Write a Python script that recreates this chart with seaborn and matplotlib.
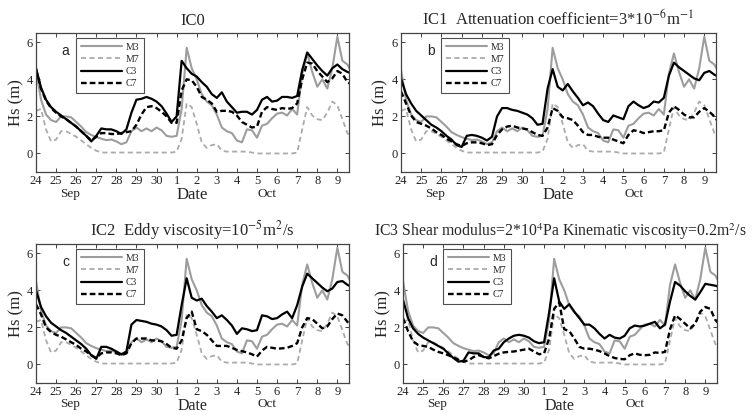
import numpy as np
import pandas as pd
import matplotlib
matplotlib.use("Agg")
import matplotlib.pyplot as plt
import seaborn as sns
from matplotlib.lines import Line2D
from matplotlib.transforms import blended_transform_factory

sns.set_theme(style="white")
plt.rcParams["font.family"] = ["Liberation Serif", "DejaVu Serif"]
plt.rcParams["mathtext.fontset"] = "stix"

# 6-hourly samples, days since 24 Sep 00:00
days = np.arange(64) * 0.25

tick_days = list(range(16))
tick_labels = ["24", "25", "26", "27", "28", "29", "30",
               "1", "2", "3", "4", "5", "6", "7", "8", "9"]
month_labels = [("Sep", 1.7), ("Oct", 11.5)]

# observed significant wave height (m)
M3 = [4.5, 2.9, 2.1, 1.8,  1.7, 2.0, 2.0, 1.95,  1.7, 1.45, 1.15, 1.0,  0.88, 0.8, 0.72, 0.75,
      0.65, 0.5, 0.6, 1.2,  1.4, 1.2, 1.35, 1.2,  1.4, 1.25, 0.95, 0.9,  0.95, 2.4, 5.7, 4.6,
      4.0, 3.2, 2.8, 2.6,  2.1, 1.4, 1.2, 1.1,  0.7, 0.6, 1.3, 1.25,  0.85, 1.5, 1.6, 1.9,
      2.15, 2.2, 2.05, 2.4,  2.1, 4.3, 5.4, 4.4,  3.6, 4.0, 3.5, 4.6,  6.3, 5.0, 4.8, 4.3]
M7 = [2.3, 2.4, 1.3, 0.65,  0.75, 1.2, 1.2, 1.05,  0.9, 0.7, 0.5, 0.3,  0.15, 0.05, 0.05, 0.05,
      0.05, 0.05, 0.05, 0.05,  0.05, 0.05, 0.05, 0.05,  0.05, 0.05, 0.05, 0.05,  0.1, 0.8, 2.7, 2.5,
      1.6, 0.6, 0.3, 0.45,  0.5, 0.15, 0.1, 0.1,  0.1, 0.1, 0.1, 0.05,  0.0, 0.0, 0.0, 0.0,
      0.0, 0.0, 0.0, 0.0,  0.05, 1.3, 2.5, 2.05,  1.85, 1.8, 2.2, 2.8,  2.6, 1.85, 1.1, 0.8]

# modelled significant wave height (m) for each ice configuration
C3_IC0 = [4.6, 3.55, 2.9, 2.5,  2.25, 2.05, 1.85, 1.65,  1.45, 1.2, 0.95, 0.65,  0.95, 1.35, 1.3, 1.3,
          1.2, 1.05, 1.3, 2.2,  2.9, 2.95, 3.05, 2.95,  2.8, 2.55, 2.15, 1.7,  2.0, 5.0, 4.6, 4.3,
          4.15, 3.85, 3.6, 3.2,  3.0, 3.3, 2.8, 2.5,  2.2, 2.25, 2.25, 2.1,  2.35, 2.9, 3.05, 2.8,
          2.85, 3.05, 3.05, 3.0,  3.1, 4.5, 5.45, 5.1,  4.75, 4.45, 4.2, 4.6,  4.8, 4.55, 4.4, 4.3]
C7_IC0 = [4.55, 3.5, 2.85, 2.45,  2.2, 2.0, 1.85, 1.65,  1.45, 1.2, 0.95, 0.7,  0.9, 1.1, 1.1, 1.05,
          1.05, 1.1, 1.15, 1.2,  1.55, 2.1, 2.5, 2.55,  2.45, 2.25, 2.0, 1.65,  1.65, 3.4, 4.0, 3.95,
          3.6, 3.05, 2.9, 2.7,  2.25, 2.3, 2.3, 2.25,  2.05, 1.7, 1.55, 1.4,  1.45, 2.25, 2.5, 2.4,
          2.35, 2.45, 2.4, 2.45,  2.7, 4.0, 4.9, 4.85,  4.45, 4.15, 3.85, 4.05,  4.45, 4.3, 3.85, 3.7]
C3_IC1 = [4.05, 3.2, 2.7, 2.3,  2.05, 1.8, 1.55, 1.4,  1.2, 0.95, 0.75, 0.45,  0.35, 0.95, 1.0, 0.95,
          0.85, 0.7, 0.9, 2.0,  2.45, 2.45, 2.35, 2.3,  2.2, 2.1, 1.9, 1.55,  1.6, 3.5, 4.55, 3.6,
          3.4, 3.75, 3.35, 3.0,  2.6, 2.75, 2.55, 2.15,  1.8, 1.7, 2.05, 1.95,  1.85, 2.55, 2.8, 2.6,
          2.45, 2.55, 2.8, 2.75,  3.0, 4.2, 4.9, 4.65,  4.45, 4.25, 4.05, 3.95,  4.35, 4.45, 4.25, 4.1]
C7_IC1 = [3.35, 2.7, 2.05, 1.7,  1.6, 1.5, 1.35, 1.15,  1.0, 0.8, 0.65, 0.5,  0.4, 0.55, 0.6, 0.6,
          0.55, 0.45, 0.5, 1.0,  1.3, 1.45, 1.5, 1.4,  1.35, 1.3, 1.15, 1.0,  0.95, 1.4, 2.45, 2.3,
          1.95, 1.9, 1.8, 1.5,  1.15, 1.0, 1.0, 0.9,  0.85, 0.85, 0.75, 0.65,  0.55, 1.0, 1.25, 1.2,
          1.1, 1.15, 1.2, 1.2,  1.25, 2.2, 2.55, 2.35,  2.1, 1.95, 1.95, 2.25,  2.45, 2.25, 2.0, 1.6]
C3_IC2 = [4.0, 3.1, 2.6, 2.25,  2.05, 1.85, 1.7, 1.5,  1.3, 1.1, 0.85, 0.5,  0.3, 0.95, 0.95, 0.85,
          0.7, 0.55, 0.7, 2.15,  2.4, 2.35, 2.3, 2.2,  2.15, 2.05, 1.85, 1.55,  1.6, 3.2, 4.65, 3.6,
          3.45, 3.55, 3.15, 2.85,  2.5, 2.65, 2.4, 2.1,  1.65, 1.95, 1.9, 1.8,  1.85, 2.65, 2.6, 2.45,
          2.5, 2.7, 2.85, 2.5,  3.2, 4.2, 4.9, 4.65,  4.4, 4.15, 3.95, 4.1,  4.45, 4.5, 4.3, 4.15]
C7_IC2 = [3.25, 2.7, 2.0, 1.75,  1.6, 1.5, 1.35, 1.2,  1.05, 0.85, 0.7, 0.5,  0.35, 0.6, 0.65, 0.65,
          0.6, 0.5, 0.6, 1.15,  1.4, 1.4, 1.4, 1.3,  1.3, 1.25, 1.1, 0.9,  0.85, 1.3, 2.5, 2.85,
          1.9, 1.8, 1.6, 1.3,  1.0, 1.0, 1.0, 0.9,  0.78, 0.72, 0.65, 0.55,  0.42, 0.75, 0.95, 0.9,
          0.85, 0.87, 0.9, 1.0,  1.15, 2.0, 2.5, 2.45,  2.2, 1.95, 2.05, 2.45,  2.75, 2.65, 2.3, 2.0]
C3_IC3 = [3.5, 2.5, 1.95, 1.65,  1.45, 1.3, 1.15, 1.0,  0.85, 0.6, 0.35, 0.15,  0.2, 0.65, 0.6, 0.6,
          0.4, 0.38, 0.75, 0.85,  1.2, 1.4, 1.55, 1.6,  1.55, 1.45, 1.25, 1.15,  1.2, 2.8, 4.65, 3.4,
          3.0, 3.25, 2.85, 2.5,  2.15, 2.15, 1.95, 1.65,  1.4, 1.6, 1.45, 1.4,  1.55, 1.95, 2.1, 2.05,
          2.1, 2.2, 2.3, 1.95,  2.15, 3.4, 4.45, 4.25,  3.95, 3.7, 3.5, 3.9,  4.35, 4.3, 4.25, 4.15]
C7_IC3 = [2.5, 1.8, 1.25, 1.05,  1.0, 0.95, 0.8, 0.68,  0.6, 0.5, 0.38, 0.25,  0.15, 0.22, 0.4, 0.5,
          0.42, 0.33, 0.45, 0.58,  0.65, 0.68, 0.7, 0.75,  0.8, 0.85, 0.7, 0.55,  0.6, 1.4, 3.0, 3.35,
          1.9, 1.8, 1.4, 0.95,  0.85, 0.85, 0.8, 0.72,  0.6, 0.45, 0.35, 0.3,  0.28, 0.5, 0.6, 0.52,
          0.5, 0.52, 0.65, 0.62,  0.68, 1.9, 2.65, 2.45,  2.2, 1.95, 2.2, 2.85,  3.1, 3.0, 2.4, 2.1]

titles = [
    "IC0",
    "IC1  Attenuation coefficient=3*10$^{-6}$m$^{-1}$",
    "IC2  Eddy viscosity=10$^{-5}$m$^{2}$/s",
    "IC3 Shear modulus=2*10$^{4}$Pa Kinematic viscosity=0.2m$^{2}$/s",
]
title_sizes = [12, 12, 12, 11.3]
letters = ["a", "b", "c", "d"]
model_c3 = [C3_IC0, C3_IC1, C3_IC2, C3_IC3]
model_c7 = [C7_IC0, C7_IC1, C7_IC2, C7_IC3]

series_names = ["M3", "M7", "C3", "C7"]
palette = {"M3": "#9d9d9d", "M7": "#ababab", "C3": "#000000", "C7": "#000000"}
dashes = {"M3": "", "M7": (2.8, 1.9), "C3": "", "C7": (2.4, 1.3)}
widths = {"M3": 1.5, "M7": 1.3, "C3": 1.6, "C7": 1.7}

# axes rectangles in figure fractions (left, bottom, width, height)
W, H = 755.0, 415.0
rects = [
    (36 / W, 1 - 172 / H, 313 / W, 139 / H),
    (401 / W, 1 - 172 / H, 315 / W, 139 / H),
    (36 / W, 1 - 383 / H, 313 / W, 139 / H),
    (403 / W, 1 - 383 / H, 314 / W, 139 / H),
]
# vertical placement of the "Date" label and month names below each panel
date_y = [-0.168, -0.168, -0.166, -0.166]
month_y = [-0.156, -0.156, -0.153, -0.153]
date_size = [12, 12, 11.5, 11.5]

fig = plt.figure(figsize=(7.55, 4.15), dpi=100)
fig.patch.set_facecolor("white")

for i in range(4):
    ax = fig.add_axes(rects[i])
    df = pd.DataFrame({
        "day": np.tile(days, 4),
        "Hs": np.concatenate([M3, M7, model_c3[i], model_c7[i]]),
        "series": np.repeat(series_names, len(days)),
    })
    sns.lineplot(data=df, x="day", y="Hs", hue="series", style="series",
                 size="series", hue_order=series_names, style_order=series_names,
                 size_order=series_names, palette=palette, dashes=dashes,
                 sizes=widths, legend=False, ax=ax)

    ax.set_xlim(0, 15.58)
    ax.set_ylim(-1, 6.5)
    ax.set_xticks(tick_days)
    ax.set_xticklabels(tick_labels, fontsize=9)
    ax.set_yticks([0, 2, 4, 6])
    ax.set_yticklabels(["0", "2", "4", "6"], fontsize=9)
    ax.tick_params(direction="in", length=3, width=0.6, top=True, right=True,
                   bottom=True, left=True, pad=2.5, colors="#222222")
    for sp in ax.spines.values():
        sp.set_color("#444444")
        sp.set_linewidth(0.9)

    ax.set_xlabel("Date", fontsize=date_size[i], va="center")
    ax.xaxis.set_label_coords(0.5, date_y[i])
    ax.set_ylabel("Hs (m)", fontsize=12, va="center")
    ax.yaxis.set_label_coords(-0.064, 0.5)
    ax.set_title(titles[i], fontsize=title_sizes[i], pad=6)

    trans = blended_transform_factory(ax.transData, ax.transAxes)
    for name, xpos in month_labels:
        ax.text(xpos, month_y[i], name, transform=trans, ha="center",
                va="center", fontsize=9.5)

    ax.text(0.095, 0.87, letters[i], transform=ax.transAxes, ha="center",
            va="center", fontsize=10, family=["Liberation Sans", "DejaVu Sans"])

    handles = [Line2D([0], [0], color=palette[s], lw=widths[s],
                      dashes=dashes[s] if dashes[s] else (None, None))
               for s in series_names]
    leg = ax.legend(handles, series_names, loc="upper left",
                    bbox_to_anchor=(0.128, 0.965), fontsize=7,
                    frameon=True, fancybox=False, handlelength=4.2,
                    handletextpad=0.4, labelspacing=0.32, borderpad=0.5,
                    borderaxespad=0.0)
    leg.get_frame().set_edgecolor("#222222")
    leg.get_frame().set_linewidth(0.8)

fig.savefig("out.png", dpi=100, facecolor="white")
